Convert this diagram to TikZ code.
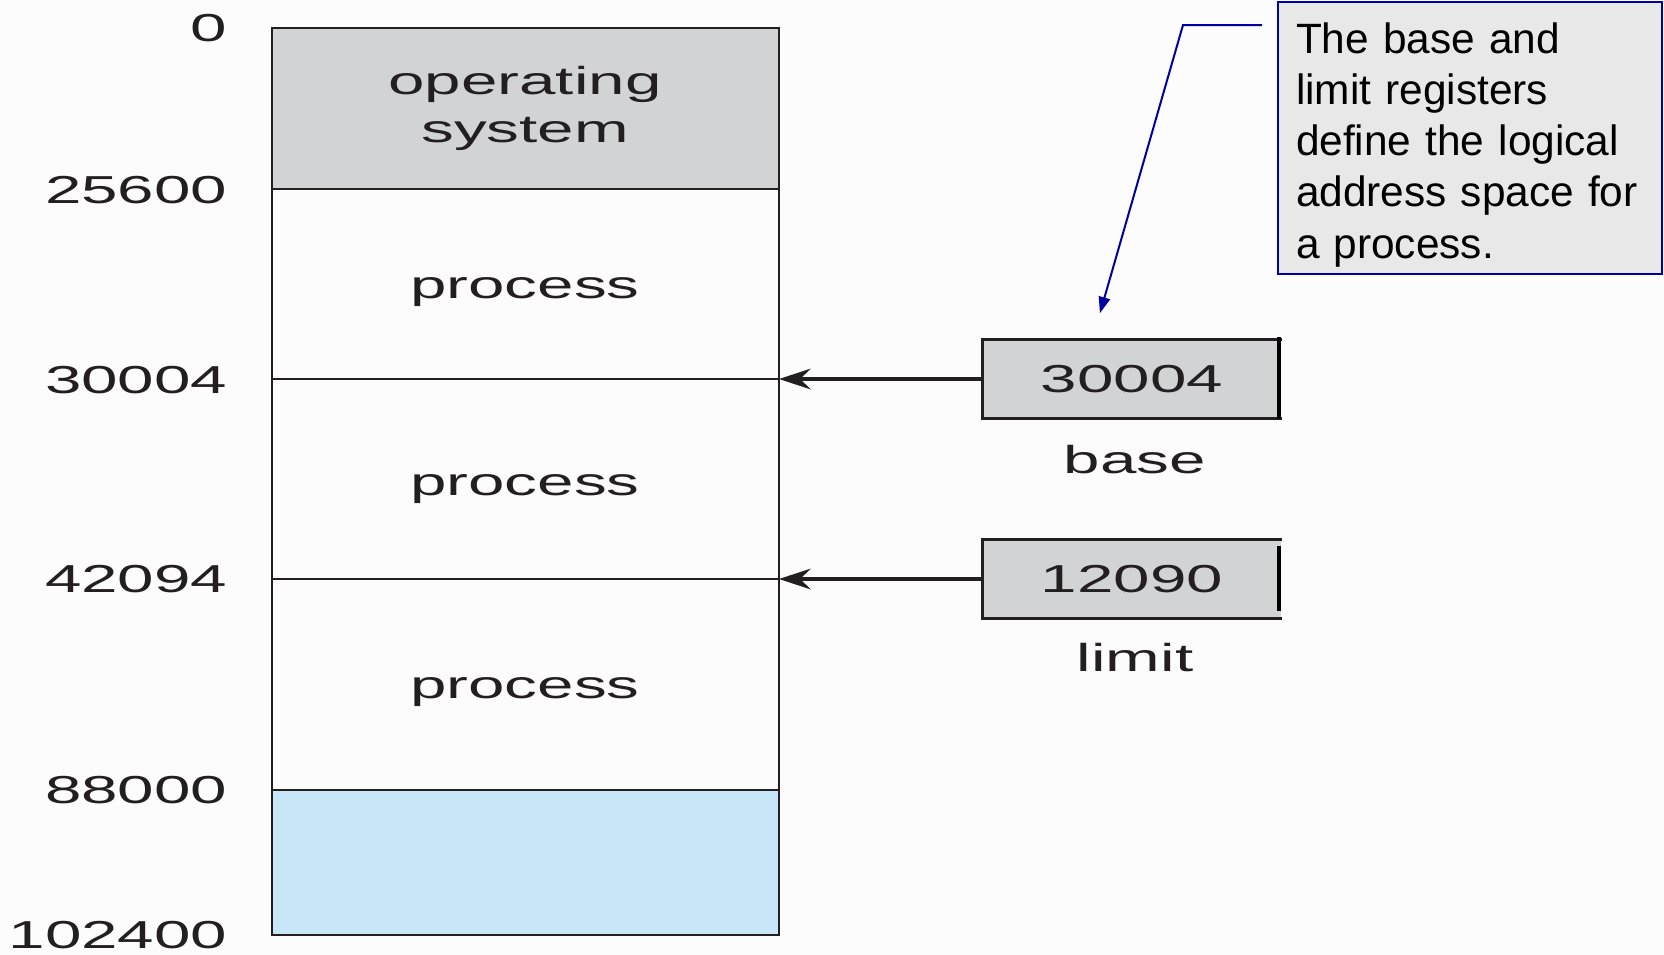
\documentclass[tikz,border=0pt]{standalone}
\usepackage{fontspec}
\setmainfont{Liberation Sans}
\newfontfamily\figfont[FakeStretch=1.68]{Liberation Sans}
\definecolor{osgray}{RGB}{209, 211, 212}
\definecolor{freeblue}{RGB}{199, 231, 248}
\definecolor{notegray}{RGB}{232, 232, 232}
\definecolor{noteblue}{RGB}{0, 0, 160}
\definecolor{figink}{RGB}{35, 31, 32}
\definecolor{paper}{RGB}{252, 252, 252}
\usepackage{tikz}
\usetikzlibrary{calc}
\tikzset{every picture/.style={line width=0.75pt}}
\tikzset{
  addr/.style={anchor=east, inner sep=0pt, text=figink, font=\figfont\fontsize{19.5}{24}\selectfont},
  memtext/.style={inner sep=0pt, text=figink, align=center, font=\figfont\fontsize{19.5}{24}\selectfont},
  regbox/.style={fill=osgray, inner sep=0pt, minimum width=149pt, minimum height=39pt, text=figink, font=\figfont\fontsize{19.5}{24}\selectfont},
  notebox/.style={draw=noteblue, line width=1.2, fill=notegray, align=left, text width=174pt, inner xsep=9pt, minimum height=136pt, font=\fontsize{21.2}{25.6}\selectfont},
}

\begin{document}
\begin{tikzpicture}[x=0.5pt,y=0.5pt,yscale=-1,xscale=1]
%set diagram left start at 0, and has height of 954
\useasboundingbox (0,0) rectangle (1664,954) ;
\fill [paper] (0,0) rectangle (1664,954) ;

%Shape: Rectangle [id:dp_os]
\draw [draw opacity=0][fill=osgray] (272,28) rectangle (779,189) ;
%Shape: Rectangle [id:dp_free]
\draw [draw opacity=0][fill=freeblue] (272,790) rectangle (779,935) ;
%Shape: Rectangle [id:dp_mem]
\draw [color=figink, line width=1.3] (272,28) rectangle (779,935) ;

%boundaries
\coordinate (l25600) at (272,189) ; \coordinate (m25600) at (779,189) ;
\coordinate (l30004) at (272,379) ; \coordinate (m30004) at (779,379) ;
\coordinate (l42094) at (272,579) ; \coordinate (m42094) at (779,579) ;
\coordinate (l88000) at (272,790) ; \coordinate (m88000) at (779,790) ;
%Straight Lines [id:da_25600]
\draw [color=figink, line width=1.2] (l25600) -- (m25600) ;
%Straight Lines [id:da_30004]
\draw [color=figink, line width=1.2] (l30004) -- (m30004) ;
%Straight Lines [id:da_42094]
\draw [color=figink, line width=1.2] (l42094) -- (m42094) ;
%Straight Lines [id:da_88000]
\draw [color=figink, line width=1.2] (l88000) -- (m88000) ;

% region labels
\draw (525,108) node (ostext) [memtext] {operating\\system} ;
\draw (525,298) node (proc1) [memtext, anchor=base] {process} ;
\draw (525,495) node (proc2) [memtext, anchor=base] {process} ;
\draw (525,698) node (proc3) [memtext, anchor=base] {process} ;

% addresses
\draw (228,28) node (a0) [addr] {0} ;
\draw (228,190) node (a25600) [addr] {25600} ;
\draw (228,380) node (a30004) [addr] {30004} ;
\draw (228,579) node (a42094) [addr] {42094} ;
\draw (228,790) node (a88000) [addr] {88000} ;
\draw (228,935) node (a102400) [addr] {102400} ;

%Shape: Rectangle [id:dp_base]
\draw (1132,379) node (basereg) [regbox] {30004} ;
\draw [color=figink, line width=1.3] (basereg.north east) -- (basereg.north west) -- (basereg.south west) -- (basereg.south east) ;
\draw [color=black, line width=2.2] ($(basereg.north east)+(-3,-2)$) -- ($(basereg.south east)+(-3,0)$) ;
\draw (1135,473) node (basetext) [memtext, anchor=base] {base} ;

%Shape: Rectangle [id:dp_limit]
\draw (1132,579) node (limitreg) [regbox] {12090} ;
\draw [color=figink, line width=1.3] (limitreg.north east) -- (limitreg.north west) -- (limitreg.south west) -- (limitreg.south east) ;
\draw [color=black, line width=2.2] ($(limitreg.north east)+(-3,7)$) -- ($(limitreg.south east)+(-3,-8)$) ;
\draw (1135,671) node (limittext) [memtext, anchor=base] {limit} ;

%Straight Lines [id:da_basearrow]
\draw [color=figink, line width=2, shorten >=10pt] (basereg.west) -- (m30004) ;
\draw [shift={(m30004)}, rotate=360] [fill=figink] [line width=0.08] [draw opacity=0] (32,-10.5) -- (0,0) -- (32,10.5) -- (21,0) -- cycle ;
%Straight Lines [id:da_limitarrow]
\draw [color=figink, line width=2, shorten >=10pt] (limitreg.west) -- (m42094) ;
\draw [shift={(m42094)}, rotate=360] [fill=figink] [line width=0.08] [draw opacity=0] (32,-10.5) -- (0,0) -- (32,10.5) -- (21,0) -- cycle ;

%Shape: Rectangle [id:dp_note]
\draw (1470,138) node (note) [notebox] {\rule{0pt}{22pt}The base and\\limit registers\\define the logical\\address space for\\a process.} ;
\coordinate (noteend) at (1262,25) ;
\coordinate (knee) at (1183,25) ;
\coordinate (tip) at (1100,313) ;
%Straight Lines [id:da_leader]
\draw [color=noteblue, line width=1, shorten >=4pt] (noteend) -- (knee) -- (tip) ;
\draw [shift={(tip)}, rotate=286.1] [fill=noteblue] [line width=0.08] [draw opacity=0] (16,-6) -- (0,0) -- (16,6) -- cycle ;

\end{tikzpicture}
\end{document}
